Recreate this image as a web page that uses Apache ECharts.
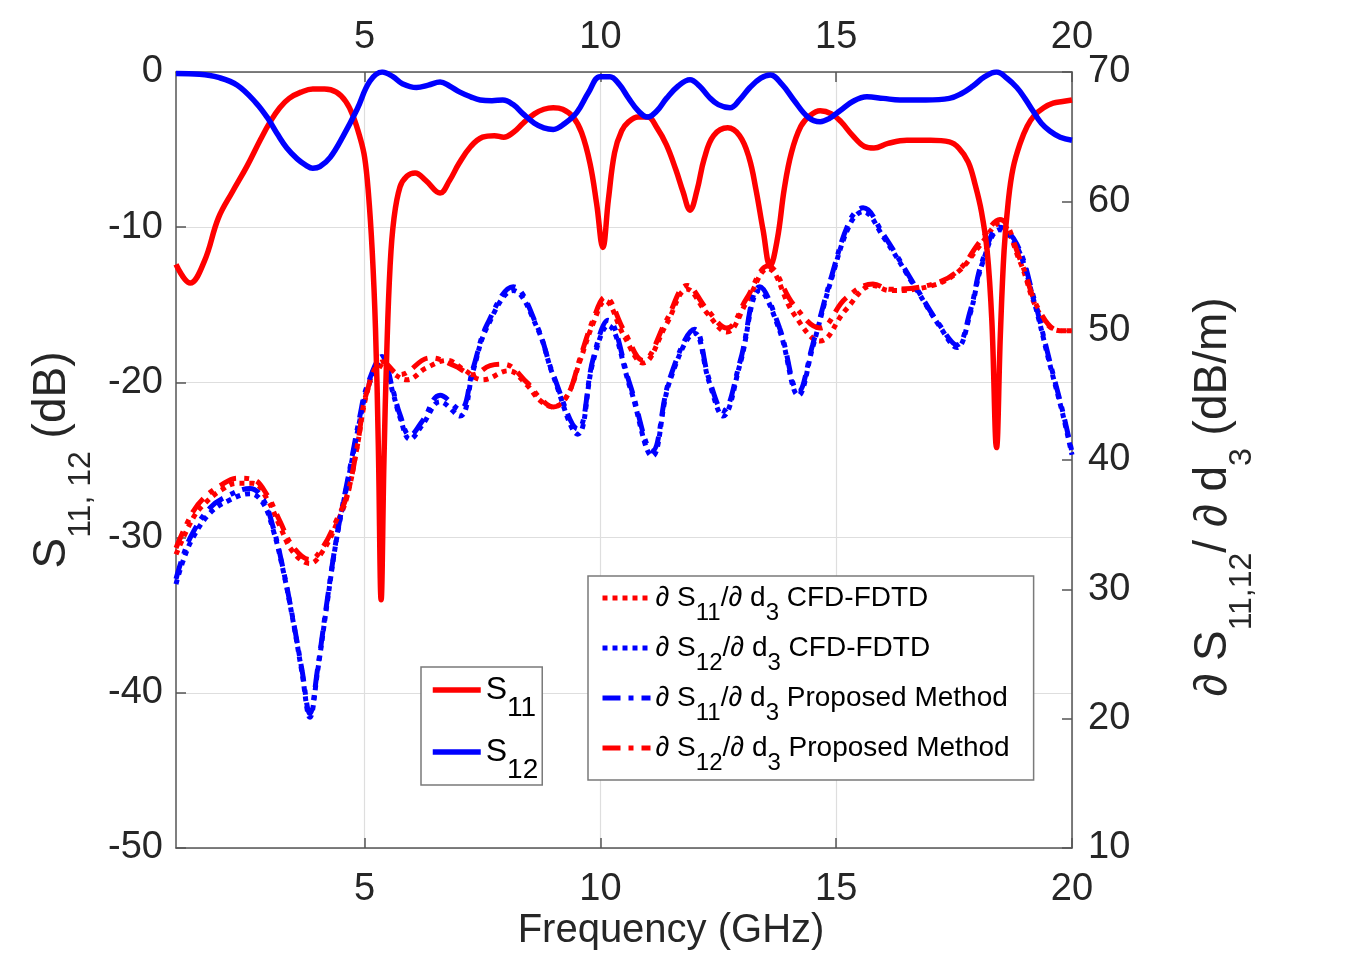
<!DOCTYPE html>
<html>
<head>
<meta charset="utf-8">
<title>S11 / S12 and sensitivities</title>
<script src="https://cdn.jsdelivr.net/npm/echarts@6.0.0/dist/echarts.min.js"></script>
<style>
html, body { margin: 0; padding: 0; background: #fff; }
#main { width: 1350px; height: 953px; }
</style>
</head>
<body>
<div id="main"></div>
<script>
// ticks of the frequency axes (GHz)
var freqTicks = [5, 10, 15, 20];

// S11 (dB), left axis
var s11 = [
	[1.0, -12.4], [1.3, -13.6], [1.6, -12.2], [1.9, -9.4], [2.2, -7.7], [2.5, -6.1], [2.8, -4.3],
	[3.0, -3.2], [3.2, -2.3], [3.4, -1.7], [3.65, -1.3], [3.9, -1.1], [4.15, -1.1], [4.4, -1.3],
	[4.6, -1.9], [4.75, -2.8], [4.9, -4.2], [5.0, -5.5], [5.08, -7.8], [5.16, -11.5], [5.23, -16.5],
	[5.29, -24], [5.35, -34], [5.41, -25], [5.47, -18], [5.54, -12.5], [5.62, -9.5], [5.75, -7.4],
	[5.9, -6.7], [6.07, -6.5], [6.3, -7.0], [6.6, -7.8], [6.8, -7.0], [7.0, -5.9], [7.25, -4.8],
	[7.5, -4.2], [7.75, -4.1], [7.95, -4.2], [8.15, -3.9], [8.36, -3.3], [8.6, -2.7], [8.8, -2.4],
	[9.0, -2.3], [9.2, -2.4], [9.42, -2.9], [9.6, -3.9], [9.78, -5.9], [9.92, -8.5], [10.05, -11.3],
	[10.17, -8.2], [10.3, -5.2], [10.45, -3.8], [10.6, -3.2], [10.8, -2.9], [11.0, -2.9], [11.2, -3.6],
	[11.4, -4.7], [11.6, -6.3], [11.75, -7.7], [11.9, -8.9], [12.05, -7.6], [12.2, -5.6], [12.4, -4.1],
	[12.7, -3.6], [12.95, -4.1], [13.15, -5.5], [13.3, -7.6], [13.45, -10.2], [13.6, -12.5], [13.75, -10.8],
	[13.9, -7.5], [14.05, -5.2], [14.25, -3.5], [14.45, -2.8], [14.66, -2.5], [14.9, -2.7], [15.1, -3.2],
	[15.35, -4.1], [15.6, -4.8], [15.8, -4.9], [16.1, -4.6], [16.5, -4.4], [17.0, -4.4], [17.4, -4.5],
	[17.6, -4.9], [17.8, -5.8], [17.95, -7.3], [18.08, -9.0], [18.2, -11.5], [18.3, -16], [18.4, -24.2],
	[18.48, -17], [18.56, -11.5], [18.65, -8.3], [18.75, -6.2], [18.9, -4.6], [19.05, -3.5], [19.2, -2.8],
	[19.4, -2.3], [19.6, -2.0], [19.8, -1.9], [20.0, -1.8]
];

// S12 (dB), left axis
var s12 = [
	[1.0, -0.1], [1.5, -0.15], [1.9, -0.35], [2.3, -0.85], [2.7, -2.0], [2.95, -3.0], [3.15, -4.0],
	[3.35, -4.9], [3.57, -5.6], [3.75, -6.0], [3.9, -6.2], [4.05, -6.1], [4.27, -5.5], [4.55, -4.1],
	[4.84, -2.4], [5.11, -0.6], [5.37, 0.0], [5.6, -0.3], [5.8, -0.75], [6.1, -1.0], [6.35, -0.85],
	[6.6, -0.65], [6.8, -0.9], [7.02, -1.3], [7.25, -1.6], [7.45, -1.8], [7.7, -1.85], [7.93, -1.8],
	[8.15, -2.1], [8.36, -2.7], [8.6, -3.3], [8.8, -3.6], [9.0, -3.7], [9.25, -3.3], [9.5, -2.6],
	[9.75, -1.3], [9.99, -0.3], [10.2, -0.3], [10.4, -0.8], [10.6, -1.7], [10.8, -2.5], [11.0, -2.9],
	[11.2, -2.5], [11.4, -1.7], [11.65, -0.9], [11.9, -0.5], [12.1, -0.9], [12.3, -1.6], [12.5, -2.1],
	[12.75, -2.3], [12.95, -1.8], [13.17, -1.0], [13.4, -0.4], [13.6, -0.2], [13.85, -0.8], [14.1, -1.8],
	[14.4, -2.9], [14.66, -3.2], [14.85, -3.0], [15.08, -2.5], [15.35, -1.9], [15.65, -1.6], [16.0, -1.7],
	[16.35, -1.8], [16.9, -1.8], [17.4, -1.7], [17.65, -1.4], [17.9, -0.9], [18.15, -0.3], [18.4, 0.0],
	[18.62, -0.4], [18.83, -1.0], [19.0, -1.7], [19.17, -2.5], [19.35, -3.3], [19.53, -3.8], [19.75, -4.2],
	[20.0, -4.4]
];

// dS11/dd3 CFD-FDTD (dB/m), right axis, red dotted
var dS11Cfd = [
	[1.0, 32.7], [1.36, 35.5], [1.6, 36.6], [1.93, 37.6], [2.3, 38.2], [2.63, 38.2], [2.93, 37.0],
	[3.2, 34.9], [3.48, 32.9], [3.84, 32.0], [4.12, 33.0], [4.41, 35.1], [4.63, 37.2], [4.84, 41.0],
	[5.05, 45.2], [5.3, 47.3], [5.55, 46.8], [5.9, 46.2], [6.3, 47.1], [6.75, 47.7], [7.1, 47.0],
	[7.5, 46.2], [8.05, 46.9], [8.44, 45.8], [8.72, 44.6], [9.0, 44.1], [9.3, 45.0], [9.57, 47.7],
	[9.85, 50.6], [10.1, 52.3], [10.5, 49.6], [10.9, 47.5], [11.4, 50.5], [11.84, 53.2], [12.25, 51.4],
	[12.68, 49.9], [13.1, 52.2], [13.55, 54.8], [14.1, 51.3], [14.66, 49.2], [15.2, 51.6], [15.78, 53.5],
	[16.14, 53.1], [17.05, 53.5], [17.6, 54.6], [18.05, 56.6], [18.47, 58.3], [18.9, 55.3], [19.3, 51.4],
	[19.74, 50.0], [20.0, 50.0]
];

// dS12/dd3 CFD-FDTD (dB/m), right axis, blue dotted
var dS12Cfd = [
	[1.0, 30.4], [1.15, 32.2], [1.36, 34.0], [1.72, 35.9], [2.08, 36.8], [2.57, 37.4], [2.84, 36.7],
	[3.06, 34.6], [3.27, 31.5], [3.48, 27.6], [3.67, 23.6], [3.84, 20.1], [4.0, 23.6], [4.2, 28.8],
	[4.41, 34.0], [4.69, 39.2], [4.9, 43.1], [5.05, 45.4], [5.37, 47.8], [5.6, 45.2], [5.75, 43.3],
	[5.96, 41.6], [6.24, 42.8], [6.6, 44.5], [7.02, 43.4], [7.3, 46.9], [7.6, 50.3], [8.15, 53.1],
	[8.65, 50.3], [9.0, 46.5], [9.52, 42.0], [9.85, 47.7], [10.16, 50.4], [10.63, 45.6], [11.1, 40.3],
	[11.47, 46.1], [12.0, 49.8], [12.3, 46.1], [12.6, 43.4], [12.96, 47.4], [13.38, 53.1], [13.8, 50.0],
	[14.2, 45.0], [14.5, 48.7], [14.9, 54.0], [15.3, 58.3], [15.57, 59.2], [15.99, 57.3], [16.7, 53.2],
	[17.2, 50.3], [17.56, 48.7], [17.84, 51.3], [18.1, 55.2], [18.47, 57.8], [18.83, 56.5], [19.17, 52.6],
	[19.53, 47.4], [19.8, 43.6], [20.0, 40.4]
];

// dS11/dd3 proposed method (dB/m), right axis, blue dash-dot
var dS11Prop = [
	[1.0, 30.8], [1.15, 32.6], [1.36, 34.4], [1.72, 36.3], [2.08, 37.2], [2.57, 37.8], [2.84, 37.0],
	[3.06, 34.8], [3.27, 31.6], [3.48, 27.7], [3.67, 23.8], [3.84, 20.4], [4.0, 23.8], [4.2, 29.0],
	[4.41, 34.1], [4.69, 39.4], [4.9, 43.4], [5.05, 45.7], [5.37, 48.0], [5.6, 45.4], [5.75, 43.5],
	[5.96, 41.9], [6.24, 43.1], [6.6, 45.0], [7.02, 43.9], [7.3, 47.1], [7.6, 50.5], [8.15, 53.4],
	[8.65, 50.4], [9.0, 46.6], [9.52, 42.4], [9.85, 47.9], [10.16, 50.8], [10.63, 45.8], [11.1, 40.7],
	[11.47, 46.3], [12.0, 50.1], [12.3, 46.3], [12.6, 43.8], [12.96, 47.6], [13.38, 53.4], [13.8, 50.2],
	[14.2, 45.3], [14.5, 48.9], [14.9, 54.2], [15.3, 58.6], [15.57, 59.5], [15.99, 57.5], [16.7, 53.3],
	[17.2, 50.4], [17.56, 48.9], [17.84, 51.5], [18.1, 55.4], [18.47, 58.0], [18.83, 56.7], [19.17, 52.8],
	[19.53, 47.6], [19.8, 43.8], [20.0, 40.6]
];

// dS12/dd3 proposed method (dB/m), right axis, red dash-dot
var dS12Prop = [
	[1.0, 33.2], [1.36, 36.0], [1.6, 37.1], [1.93, 38.0], [2.3, 38.6], [2.63, 38.5], [2.93, 37.3],
	[3.2, 35.3], [3.48, 33.3], [3.84, 32.3], [4.12, 33.3], [4.41, 35.4], [4.63, 37.3], [4.84, 41.0],
	[5.05, 45.3], [5.39, 47.6], [5.75, 46.6], [6.39, 47.9], [6.9, 47.3], [7.3, 46.6], [7.66, 47.3],
	[7.95, 47.4], [8.44, 46.0], [8.72, 44.8], [9.0, 44.1], [9.3, 45.0], [9.57, 47.9], [9.85, 50.9],
	[10.1, 52.6], [10.5, 50.0], [10.9, 47.7], [11.4, 50.8], [11.84, 53.5], [12.25, 51.7], [12.68, 50.2],
	[13.1, 52.5], [13.55, 55.0], [14.1, 52.0], [14.66, 50.2], [15.2, 52.5], [15.78, 53.6], [16.14, 53.2],
	[17.05, 53.6], [17.6, 54.7], [18.05, 56.9], [18.47, 58.6], [18.9, 55.5], [19.3, 51.6], [19.74, 50.0],
	[20.0, 50.0]
];

var FONT = '"Liberation Sans", Arial, Helvetica, sans-serif';
var TXT = '#262626';
var AXIS = '#555555';
var GRID = '#dedede';
var RED = '#ff0000';
var BLUE = '#0000ff';
var DOT = [5, 5];
var DASHDOT = [18, 8, 5, 8];

var legendText = {
	'S11': '{b|S}{s|11}',
	'S12': '{b|S}{s|12}',
	'dS11 CFD': '{b|\u2202 S}{s|11}{b|/\u2202 d}{s|3}{b| CFD-FDTD}',
	'dS12 CFD': '{b|\u2202 S}{s|12}{b|/\u2202 d}{s|3}{b| CFD-FDTD}',
	'dS11 Prop': '{b|\u2202 S}{s|11}{b|/\u2202 d}{s|3}{b| Proposed Method}',
	'dS12 Prop': '{b|\u2202 S}{s|12}{b|/\u2202 d}{s|3}{b| Proposed Method}'
};

function lineSeries(name, data, axis, color, width, type) {
	return {
		name: name,
		type: 'line',
		yAxisIndex: axis,
		data: data,
		symbol: 'none',
		showSymbol: false,
		smooth: 0.4,
		lineStyle: { color: color, width: width, type: type },
		itemStyle: { color: color }
	};
}

function freqAxis(pos) {
	var bottom = pos == 'bottom';
	return {
		type: 'value',
		position: pos,
		min: 1,
		max: 20,
		name: bottom ? 'Frequency (GHz)' : '',
		nameLocation: 'middle',
		nameGap: 63,
		nameMoveOverlap: false,
		nameTextStyle: { fontFamily: FONT, fontSize: 40, color: TXT, padding: [0, 0, 0, 94] },
		axisLine: { show: true, onZero: false, lineStyle: { color: AXIS, width: 1.5 } },
		axisTick: { show: true, inside: true, length: 10, customValues: freqTicks, lineStyle: { color: AXIS, width: 1.5 } },
		axisLabel: { customValues: freqTicks, fontFamily: FONT, fontSize: 38, color: TXT, margin: bottom ? 23 : 15 },
		splitLine: { show: bottom, lineStyle: { color: GRID, width: 1.2 } }
	};
}

var chart = echarts.init(document.getElementById('main'), null, { renderer: 'canvas' });

var option = {
	backgroundColor: '#ffffff',
	animation: false,
	grid: { left: 176, right: 278, top: 72, bottom: 105, outerBoundsMode: 'none' },
	xAxis: [freqAxis('bottom'), freqAxis('top')],
	yAxis: [
		{
			type: 'value',
			position: 'left',
			min: -50,
			max: 0,
			interval: 10,
			name: '{b|S}{s|11, 12}{b| (dB)}',
			nameLocation: 'middle',
			nameRotate: 90,
			nameGap: 83,
			nameTextStyle: {
				color: TXT,
				rich: {
					b: { fontFamily: FONT, fontSize: 46, color: TXT },
					s: { fontFamily: FONT, fontSize: 32, color: TXT, lineHeight: 32, padding: [58, 0, 0, 0] }
				}
			},
			axisLine: { show: true, onZero: false, lineStyle: { color: AXIS, width: 1.5 } },
			axisTick: { show: true, inside: true, length: 10, lineStyle: { color: AXIS, width: 1.5 } },
			axisLabel: { fontFamily: FONT, fontSize: 38, color: TXT, margin: 13 },
			splitLine: { show: true, lineStyle: { color: GRID, width: 1.2 } }
		},
		{
			type: 'value',
			position: 'right',
			min: 10,
			max: 70,
			interval: 10,
			name: '{b|\u2202 S}{s|11,12}{b|/ \u2202 d}{s|3}{b| (dB/m)}',
			nameLocation: 'middle',
			nameRotate: 90,
			nameGap: 118,
			nameTextStyle: {
				color: TXT,
				padding: [0, 74, 0, 0],
				rich: {
					b: { fontFamily: FONT, fontSize: 46, color: TXT },
					s: { fontFamily: FONT, fontSize: 32, color: TXT, lineHeight: 32, padding: [58, 0, 0, 0] }
				}
			},
			axisLine: { show: true, onZero: false, lineStyle: { color: AXIS, width: 1.5 } },
			axisTick: { show: true, inside: true, length: 10, lineStyle: { color: AXIS, width: 1.5 } },
			axisLabel: { fontFamily: FONT, fontSize: 38, color: TXT, margin: 16 },
			splitLine: { show: false }
		}
	],
	legend: [
		{
			data: ['S11', 'S12'],
			orient: 'vertical',
			left: 421,
			top: 667,
			itemWidth: 48,
			itemHeight: 14,
			itemGap: -2,
			padding: [-9, 4, 1, 9],
			borderColor: '#7a7a7a',
			borderWidth: 1.5,
			borderRadius: 0,
			backgroundColor: '#ffffff',
			selectedMode: false,
			itemStyle: { opacity: 0 },
			lineStyle: { width: 5.5 },
			formatter: function (name) { return legendText[name]; },
			textStyle: {
				rich: {
					b: { fontFamily: FONT, fontSize: 32, color: '#000' },
					s: { fontFamily: FONT, fontSize: 28, color: '#000', lineHeight: 28, padding: [36, 0, 0, 0] }
				}
			}
		},
		{
			data: ['dS11 CFD', 'dS12 CFD', 'dS11 Prop', 'dS12 Prop'],
			orient: 'vertical',
			left: 588,
			top: 576,
			itemWidth: 48,
			itemHeight: 14,
			itemGap: -4,
			padding: [-5, 24, 5, 12],
			borderColor: '#7a7a7a',
			borderWidth: 1.5,
			borderRadius: 0,
			backgroundColor: '#ffffff',
			selectedMode: false,
			itemStyle: { opacity: 0 },
			lineStyle: { width: 5 },
			formatter: function (name) { return legendText[name]; },
			textStyle: {
				rich: {
					b: { fontFamily: FONT, fontSize: 28, color: '#000' },
					s: { fontFamily: FONT, fontSize: 24, color: '#000', lineHeight: 24, padding: [30, 0, 0, 0] }
				}
			}
		}
	],
	series: [
		lineSeries('dS11 CFD', dS11Cfd, 1, RED, 5, DOT),
		lineSeries('dS12 CFD', dS12Cfd, 1, BLUE, 5, DOT),
		lineSeries('dS11 Prop', dS11Prop, 1, BLUE, 5, DASHDOT),
		lineSeries('dS12 Prop', dS12Prop, 1, RED, 5, DASHDOT),
		lineSeries('S11', s11, 0, RED, 5.5, 'solid'),
		lineSeries('S12', s12, 0, BLUE, 5.5, 'solid')
	]
};

chart.setOption(option);
console.log("Done with chart.");
</script>
</body>
</html>
